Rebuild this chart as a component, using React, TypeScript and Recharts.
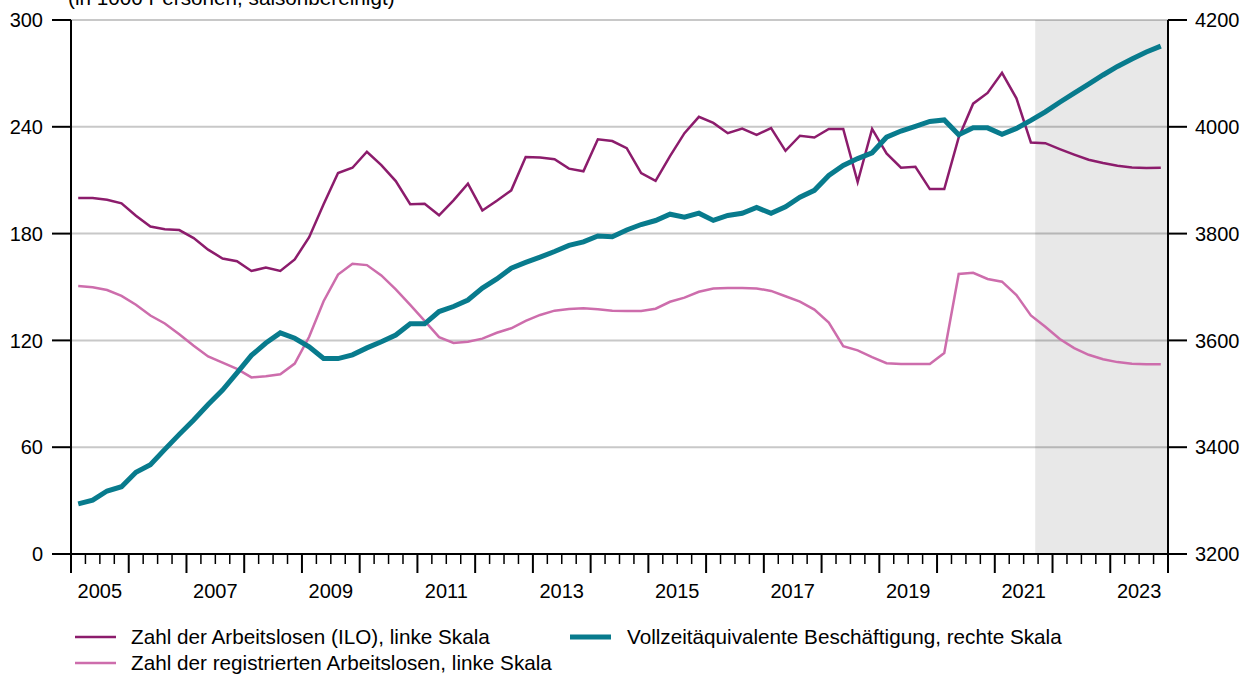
import { LineChart, Line, XAxis, YAxis, CartesianGrid, ReferenceArea } from 'recharts';

const years = [2005, 2006, 2007, 2008, 2009, 2010, 2011, 2012, 2013, 2014, 2015, 2016, 2017, 2018, 2019, 2020, 2021, 2022, 2023];

// Zahl der Arbeitslosen (ILO), Tsd., quartalsweise ab 2005 Q1
const ilo = [
    200, 200, 199, 197, 190, 184, 182.5, 182, 177.5, 171,
    166, 164.5, 159, 161, 159, 165.5, 178, 196.5, 214, 217,
    226, 218.5, 209.5, 196.5, 196.7, 190.3, 198.7, 208, 193, 198.5,
    204.3, 223, 222.7, 221.8, 216.5, 215, 233, 232, 228, 214,
    209.6, 223.5, 236.4, 245.6, 242.2, 236.4, 239, 235.5, 239.3, 226.5,
    235, 234, 238.8, 238.8, 209, 238.8, 225, 217, 217.5, 205,
    205, 234, 253, 259, 270.3, 256, 231.2, 230.8, 227.5, 224.4,
    221.5, 219.7, 218.1, 217.1, 216.8, 217,
];

// Zahl der registrierten Arbeitslosen, Tsd.
const registered = [
    150.5, 149.8, 148.3, 145, 140, 134, 129.5, 123.5, 117, 111,
    107.5, 104, 99.2, 99.8, 101, 107, 122, 142, 157, 163,
    162.3, 156.5, 148.7, 140, 131, 121.8, 118.6, 119.3, 121, 124.3,
    126.8, 131, 134.3, 136.7, 137.6, 138, 137.5, 136.6, 136.5, 136.5,
    137.8, 141.7, 144, 147.3, 149.2, 149.4, 149.4, 149.2, 147.8, 144.8,
    141.8, 137.3, 130, 116.8, 114.4, 110.6, 107.2, 106.7, 106.7, 106.7,
    112.9, 157.3, 158, 154.5, 153, 145.5, 134, 127.7, 120.8, 115.7,
    111.9, 109.4, 107.8, 106.9, 106.6, 106.6,
];

// Vollzeitäquivalente Beschäftigung, Tsd.
const employment = [
    3294, 3301, 3318, 3326, 3353, 3367, 3396, 3424, 3451, 3480,
    3507, 3539, 3572, 3595, 3614, 3604, 3588, 3566, 3566, 3573,
    3586, 3597.5, 3610, 3631, 3631, 3654, 3663.5, 3675.6, 3698, 3715,
    3735.3, 3746, 3756, 3766.5, 3778, 3784.5, 3795.5, 3794, 3806.7, 3817,
    3824.5, 3836.3, 3830.7, 3838.3, 3824.7, 3834, 3838, 3849, 3838, 3850,
    3868, 3881, 3909, 3927.5, 3940.5, 3951.3, 3980.5, 3992, 4000.7, 4010,
    4012.8, 3985, 3998, 3998, 3986, 3997, 4012, 4028, 4046, 4063,
    4080, 4097, 4113, 4127, 4140, 4151,
];

const leftTicks = [0, 60, 120, 180, 240, 300];
const rightTicks = [3200, 3400, 3600, 3800, 4000, 4200];
const forecastStart = 66.8; // Prognosezeitraum (in Quartalen ab 2005)

const FONT = '"Liberation Sans", Arial, Helvetica, sans-serif';
const PURPLE = '#8c1c6c';
const PINK = '#cd6dac';
const TEAL = '#087b8d';
const TEXT_SIZE = 20.7;
const TICK_SIZE = 20;

const quarterCount = years.length * 4;
const quarterTicks = Array.from({ length: quarterCount + 1 }, (_, i) => i);
const data = ilo.map((v, i) => ({ q: i + 0.5, ilo: v, reg: registered[i], emp: employment[i] }));

function QuarterTick(props: any) {
    const { x, y, payload } = props;
    const v = payload.value as number;
    const major = v % 4 === 0;
    const label = v % 8 === 2 ? years[(v - 2) / 4] : null;
    return (
        <g>
            <line x1={x} x2={x} y1={y} y2={y + (major ? 19 : 10)} stroke="#000" strokeWidth={major ? 2 : 1.5} />
            {label && (
                <text x={x} y={y + 44} textAnchor="middle" fontSize={TICK_SIZE} fill="#000" fontFamily={FONT}>
                    {label}
                </text>
            )}
        </g>
    );
}

export default function App() {
    return (
        <div style={{ position: 'absolute', left: 0, top: 0, width: 1243, height: 674, background: '#fff', overflow: 'hidden', fontFamily: FONT }}>
            <LineChart width={1243} height={674} data={data} margin={{ top: 20, right: 0, bottom: 0, left: 0 }}>
                <CartesianGrid yAxisId="left" vertical={false} stroke="#c8c8c8" strokeWidth={2} />
                <XAxis
                    dataKey="q"
                    type="number"
                    domain={[0, quarterCount]}
                    ticks={quarterTicks}
                    interval={0}
                    height={120}
                    tickSize={0}
                    tickMargin={0}
                    tickLine={false}
                    axisLine={{ stroke: '#000', strokeWidth: 2 }}
                    tick={<QuarterTick />}
                />
                <YAxis
                    yAxisId="left"
                    orientation="left"
                    width={71}
                    domain={[0, 300]}
                    ticks={leftTicks}
                    interval={0}
                    tickSize={19}
                    tickMargin={9}
                    axisLine={{ stroke: '#000', strokeWidth: 2 }}
                    tickLine={{ stroke: '#000', strokeWidth: 2 }}
                    tick={{ fill: '#000', fontSize: TICK_SIZE, fontFamily: FONT }}
                />
                <YAxis
                    yAxisId="right"
                    orientation="right"
                    width={75}
                    domain={[3200, 4200]}
                    ticks={rightTicks}
                    interval={0}
                    tickSize={19}
                    tickMargin={8}
                    axisLine={{ stroke: '#000', strokeWidth: 2 }}
                    tickLine={{ stroke: '#000', strokeWidth: 2 }}
                    tick={{ fill: '#000', fontSize: TICK_SIZE, fontFamily: FONT }}
                />
                <ReferenceArea yAxisId="left" x1={forecastStart} x2={quarterCount} fill="#000" fillOpacity={0.09} stroke="none" />
                <Line yAxisId="left" type="linear" dataKey="ilo" stroke={PURPLE} strokeWidth={2.5} dot={false} isAnimationActive={false} />
                <Line yAxisId="left" type="linear" dataKey="reg" stroke={PINK} strokeWidth={2.5} dot={false} isAnimationActive={false} />
                <Line yAxisId="right" type="linear" dataKey="emp" stroke={TEAL} strokeWidth={5} dot={false} isAnimationActive={false} />
            </LineChart>

            <svg width={1243} height={674} style={{ position: 'absolute', left: 0, top: 0, pointerEvents: 'none' }}>
                <text x={68} y={5} fontSize={TEXT_SIZE} fill="#000" fontFamily={FONT}>(in 1000 Personen, saisonbereinigt)</text>

                <line x1={75} x2={116} y1={637} y2={637} stroke={PURPLE} strokeWidth={2.5} />
                <text x={131} y={644} fontSize={TEXT_SIZE} fill="#000" fontFamily={FONT}>Zahl der Arbeitslosen (ILO), linke Skala</text>

                <line x1={570} x2={611} y1={637} y2={637} stroke={TEAL} strokeWidth={5} />
                <text x={627} y={644} fontSize={TEXT_SIZE} fill="#000" fontFamily={FONT}>Vollzeitäquivalente Beschäftigung, rechte Skala</text>

                <line x1={75} x2={116} y1={663} y2={663} stroke={PINK} strokeWidth={2.5} />
                <text x={131} y={670} fontSize={TEXT_SIZE} fill="#000" fontFamily={FONT}>Zahl der registrierten Arbeitslosen, linke Skala</text>
            </svg>
        </div>
    );
}
